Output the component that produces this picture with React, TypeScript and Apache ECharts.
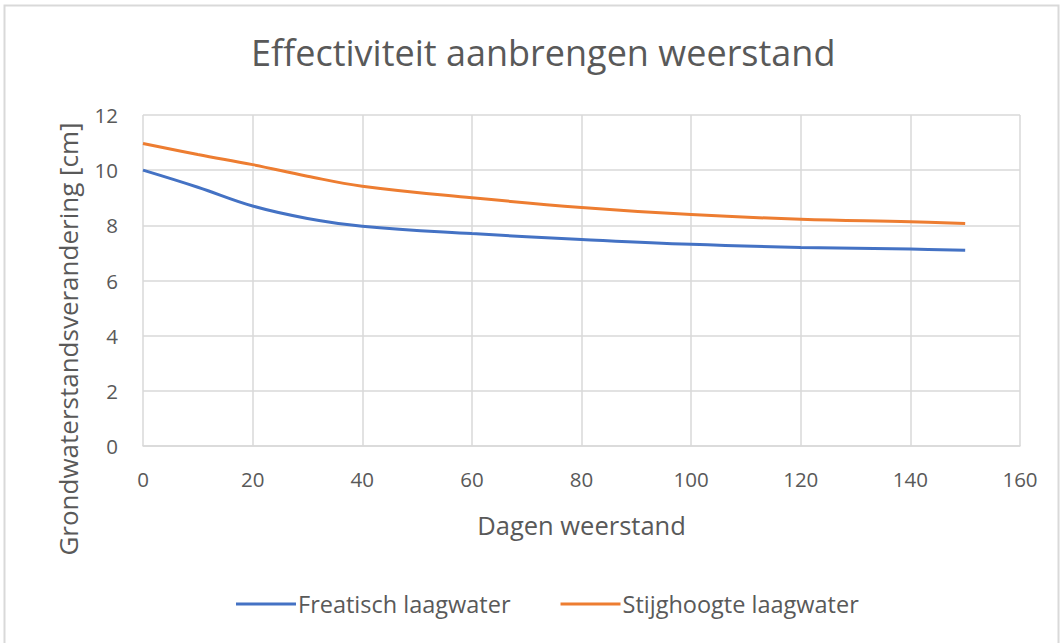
import React, { useEffect, useRef } from "react";
import * as echarts from "echarts";

const days = [0, 10, 20, 30, 40, 60, 80, 100, 120, 140, 150];
const freatisch = [10.0, 9.38, 8.7, 8.25, 7.97, 7.7, 7.49, 7.31, 7.2, 7.14, 7.1];
const stijghoogte = [10.97, 10.57, 10.2, 9.78, 9.42, 9.0, 8.65, 8.39, 8.22, 8.13, 8.07];
const seriesNames = ["Freatisch laagwater", "Stijghoogte laagwater"];
const yAxisTitle = "Grondwaterstandsverandering [cm]";

const FONT = "Open Sans";
const GRAY = "#595959";

export default function App() {
  const ref = useRef<HTMLDivElement>(null);
  useEffect(() => {
    if (!ref.current) return;
    const chart = echarts.init(ref.current, undefined, { renderer: "svg" });
    chart.setOption({
      animation: false,
      backgroundColor: "#ffffff",
      textStyle: { fontFamily: FONT, color: GRAY },
      title: {
        text: "Effectiviteit aanbrengen weerstand",
        left: 246,
        top: 29,
        textStyle: { fontFamily: FONT, fontSize: 36, fontWeight: "normal", color: GRAY },
      },
      graphic: [
        {
          type: "rect",
          shape: { x: 4.5, y: 5.5, width: 1054, height: 650 },
          style: { fill: "none", stroke: "#d9d9d9", lineWidth: 2 },
          silent: true,
        },
        {
          type: "text",
          x: 68,
          y: 339,
          rotation: Math.PI / 2,
          style: {
            text: yAxisTitle,
            fontFamily: FONT,
            fontSize: 26,
            fill: GRAY,
            align: "center",
            verticalAlign: "middle",
          },
          silent: true,
        },
      ],
      legend: {
        bottom: 22,
        left: 231,
        itemWidth: 60,
        itemHeight: 3,
        itemGap: 50,
        icon: "rect",
        textStyle: { fontFamily: FONT, fontSize: 23.5, color: GRAY, padding: [0, 0, 0, -3] },
        data: seriesNames,
      },
      grid: { left: 143, right: 43, top: 115, bottom: 197 },
      xAxis: {
        type: "value",
        min: 0,
        max: 160,
        interval: 20,
        name: "Dagen weerstand",
        nameLocation: "middle",
        nameGap: 66,
        nameTextStyle: { fontFamily: FONT, fontSize: 25.5, color: GRAY },
        axisLine: { show: true, lineStyle: { color: "#d9d9d9", width: 1.5 } },
        axisTick: { show: false },
        axisLabel: { fontFamily: FONT, fontSize: 20.5, color: GRAY, margin: 22 },
        splitLine: { show: true, lineStyle: { color: "#d9d9d9", width: 1.5 } },
      },
      yAxis: {
        type: "value",
        min: 0,
        max: 12,
        interval: 2,
        axisLine: { show: false },
        axisTick: { show: false },
        axisLabel: { fontFamily: FONT, fontSize: 20.5, color: GRAY, margin: 25 },
        splitLine: { show: true, lineStyle: { color: "#d9d9d9", width: 1.5 } },
      },
      series: [
        {
          name: seriesNames[0],
          type: "line",
          smooth: 0.4,
          showSymbol: false,
          data: days.map((d, i) => [d, freatisch[i]]),
          lineStyle: { color: "#4472C4", width: 3 },
          itemStyle: { color: "#4472C4" },
        },
        {
          name: seriesNames[1],
          type: "line",
          smooth: 0.4,
          showSymbol: false,
          data: days.map((d, i) => [d, stijghoogte[i]]),
          lineStyle: { color: "#ED7D31", width: 3 },
          itemStyle: { color: "#ED7D31" },
        },
      ],
    });
    return () => chart.dispose();
  }, []);
  return (
    <div
      ref={ref}
      style={{ position: "fixed", left: 0, top: 0, width: 1063, height: 643 }}
    />
  );
}
